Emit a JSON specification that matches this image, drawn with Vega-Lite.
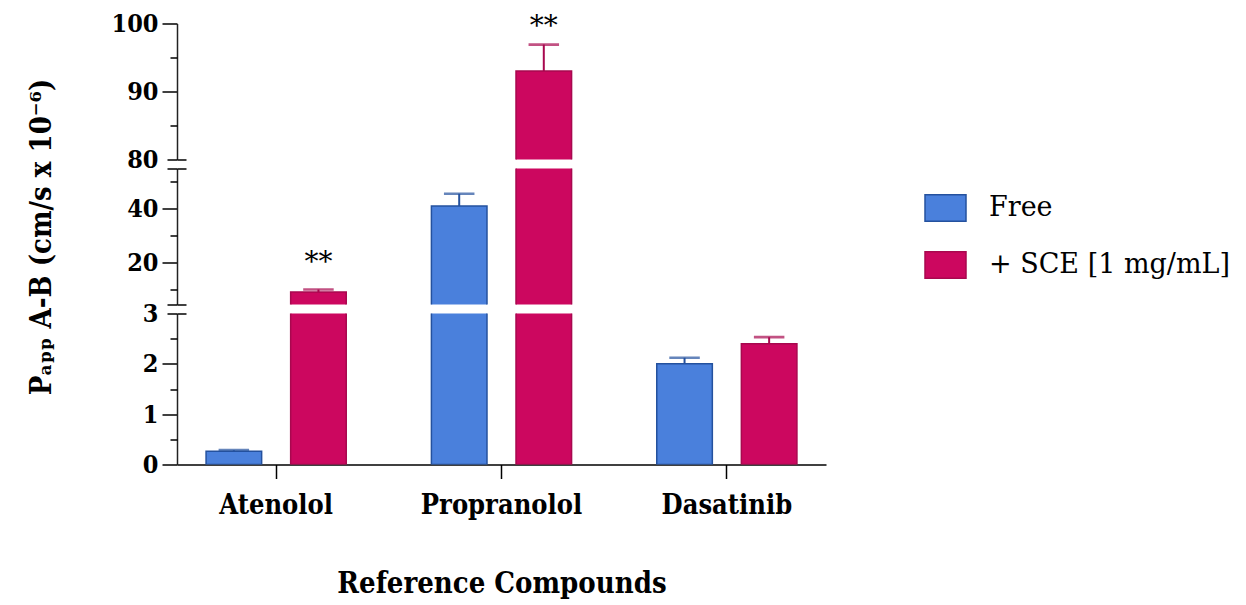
{
  "$schema": "https://vega.github.io/schema/vega-lite/v6.json",
  "padding": {"left": 27, "top": 11.5, "right": 5, "bottom": 5},
  "bounds": "flush",
  "config": {
    "font": "DejaVu Serif Condensed",
    "view": {"stroke": null},
    "axis": {
      "grid": false,
      "labelFont": "DejaVu Serif Condensed",
      "labelFontSize": 25,
      "labelFontWeight": "bold",
      "labelColor": "black",
      "tickColor": "black",
      "tickWidth": 1.5,
      "domainColor": "#222",
      "domainWidth": 1.5,
      "labelPadding": 4,
      "titleFont": "DejaVu Serif Condensed",
      "titleFontSize": 29,
      "titleFontWeight": "bold",
      "titleColor": "black"
    },
    "legend": {
      "labelFont": "DejaVu Serif",
      "labelFontSize": 27,
      "labelColor": "black",
      "labelLimit": 400,
      "symbolType": "M-1,-0.65H1V0.65H-1Z",
      "symbolSize": 1681,
      "symbolStrokeWidth": 1.5,
      "rowPadding": 19,
      "labelOffset": 22
    }
  },
  "datasets": {
    "papp": [
      {"compound": "Atenolol", "group": "Free", "value": 0.264, "upper": 0.285, "sig": ""},
      {"compound": "Atenolol", "group": "+ SCE [1 mg/mL]", "value": 9.0, "upper": 9.9, "sig": "**"},
      {"compound": "Propranolol", "group": "Free", "value": 41.0, "upper": 45.6, "sig": ""},
      {"compound": "Propranolol", "group": "+ SCE [1 mg/mL]", "value": 93.0, "upper": 96.9, "sig": "**"},
      {"compound": "Dasatinib", "group": "Free", "value": 2.0, "upper": 2.12, "sig": ""},
      {"compound": "Dasatinib", "group": "+ SCE [1 mg/mL]", "value": 2.4, "upper": 2.53, "sig": ""}
    ]
  },
  "spacing": 9,
  "resolve": {"scale": {"fill": "shared", "stroke": "shared"}, "legend": {"fill": "shared", "stroke": "shared"}},
  "vconcat": [
    {
      "width": 649,
      "height": 136,
      "data": {"name": "papp"},
      "resolve": {"axis": {"y": "independent"}},
      "encoding": {
        "x": {"field": "compound", "type": "nominal", "sort": ["Atenolol", "Propranolol", "Dasatinib"], "scale": {"paddingInner": 0.378, "paddingOuter": 0.129}, "axis": null},
        "xOffset": {"field": "group", "type": "nominal", "sort": ["Free", "+ SCE [1 mg/mL]"], "scale": {"paddingInner": 0.343, "paddingOuter": 0}},
        "stroke": {"field": "group", "type": "nominal", "scale": {"domain": ["Free", "+ SCE [1 mg/mL]"], "range": ["#24519e", "#a8084f"]}, "legend": {"title": null, "orient": "none", "legendX": 747, "legendY": 163}}
      },
      "layer": [
        {
          "mark": {"type": "bar", "clip": true, "strokeWidth": 1.5},
          "encoding": {
            "y": {"field": "value", "type": "quantitative", "scale": {"domain": [80, 100], "nice": false, "zero": false},
              "axis": {"title": null, "orient": "left", "values": [90, 100], "tickSize": 15}},
            "y2": {"datum": 0},
            "fill": {"field": "group", "type": "nominal", "scale": {"domain": ["Free", "+ SCE [1 mg/mL]"], "range": ["#4a80dc", "#cc075f"]}, "legend": {"title": null, "orient": "none", "legendX": 747, "legendY": 163}}
          }
        },
        {
          "mark": {"type": "rule", "clip": true, "strokeWidth": 2},
          "encoding": {
            "y": {"field": "value", "type": "quantitative", "scale": {"domain": [80, 100], "nice": false, "zero": false},
              "axis": {"title": null, "orient": "left", "values": [85, 95], "tickSize": 7, "labels": false, "domain": false}},
            "y2": {"field": "upper"}
          }
        },
        {
          "mark": {"type": "tick", "clip": true, "size": 28, "thickness": 0.1, "filled": false, "strokeWidth": 2.5},
          "encoding": {
            "y": {"field": "upper", "type": "quantitative", "scale": {"domain": [80, 100], "nice": false, "zero": false},
              "axis": {"title": null, "orient": "left", "values": [80], "tickSize": 10, "labelPadding": 9, "domain": false, "grid": true, "gridColor": "black", "gridWidth": 1.5, "gridDash": [9, 3000]}}
          }
        },
        {
          "transform": [{"filter": "datum.sig === '**' && datum.upper >= 80 && datum.upper <= 100"}],
          "mark": {"type": "text", "fontSize": 28, "font": "DejaVu Serif", "baseline": "alphabetic", "dy": -10, "fill": "black"},
          "encoding": {
            "y": {"field": "upper", "type": "quantitative", "scale": {"domain": [80, 100], "nice": false, "zero": false}, "axis": null},
            "text": {"field": "sig"},
            "stroke": {"value": null}
          }
        }
      ]
    },
    {
      "width": 649,
      "height": 136,
      "data": {"name": "papp"},
      "resolve": {"axis": {"y": "independent"}},
      "encoding": {
        "x": {"field": "compound", "type": "nominal", "sort": ["Atenolol", "Propranolol", "Dasatinib"], "scale": {"paddingInner": 0.378, "paddingOuter": 0.129}, "axis": null},
        "xOffset": {"field": "group", "type": "nominal", "sort": ["Free", "+ SCE [1 mg/mL]"], "scale": {"paddingInner": 0.343, "paddingOuter": 0}},
        "stroke": {"field": "group", "type": "nominal", "scale": {"domain": ["Free", "+ SCE [1 mg/mL]"], "range": ["#24519e", "#a8084f"]}, "legend": {"title": null, "orient": "none", "legendX": 747, "legendY": 163}}
      },
      "layer": [
        {
          "mark": {"type": "bar", "clip": true, "strokeWidth": 1.5},
          "encoding": {
            "y": {"field": "value", "type": "quantitative", "scale": {"domain": [4.3, 55], "nice": false, "zero": false},
              "axis": {"title": "Pₐₚₚ A-B (cm/s x 10⁻⁶)", "titlePadding": 70, "orient": "left", "values": [20, 40], "tickSize": 15}},
            "y2": {"datum": 0},
            "fill": {"field": "group", "type": "nominal", "scale": {"domain": ["Free", "+ SCE [1 mg/mL]"], "range": ["#4a80dc", "#cc075f"]}, "legend": {"title": null, "orient": "none", "legendX": 747, "legendY": 163}}
          }
        },
        {
          "mark": {"type": "rule", "clip": true, "strokeWidth": 2},
          "encoding": {
            "y": {"field": "value", "type": "quantitative", "scale": {"domain": [4.3, 55], "nice": false, "zero": false},
              "axis": {"title": null, "orient": "left", "values": [10, 30, 50], "tickSize": 7, "labels": false, "domain": false}},
            "y2": {"field": "upper"}
          }
        },
        {
          "mark": {"type": "tick", "clip": true, "size": 28, "thickness": 0.1, "filled": false, "strokeWidth": 2.5},
          "encoding": {
            "y": {"field": "upper", "type": "quantitative", "scale": {"domain": [4.3, 55], "nice": false, "zero": false},
              "axis": {"title": null, "orient": "left", "values": [4.3, 55], "tickSize": 10, "labels": false, "domain": false, "grid": true, "gridColor": "black", "gridWidth": 1.5, "gridDash": [9, 3000]}}
          }
        },
        {
          "transform": [{"filter": "datum.sig === '**' && datum.upper >= 4.3 && datum.upper <= 55"}],
          "mark": {"type": "text", "fontSize": 28, "font": "DejaVu Serif", "baseline": "alphabetic", "dy": -18, "fill": "black"},
          "encoding": {
            "y": {"field": "upper", "type": "quantitative", "scale": {"domain": [4.3, 55], "nice": false, "zero": false}, "axis": null},
            "text": {"field": "sig"},
            "stroke": {"value": null}
          }
        }
      ]
    },
    {
      "width": 649,
      "height": 151,
      "data": {"name": "papp"},
      "resolve": {"axis": {"y": "independent"}},
      "encoding": {
        "x": {"field": "compound", "type": "nominal", "sort": ["Atenolol", "Propranolol", "Dasatinib"], "scale": {"paddingInner": 0.378, "paddingOuter": 0.129},
          "axis": {"title": "Reference Compounds", "labelAngle": 0, "tickSize": 14, "labelPadding": 14, "titlePadding": 51, "domainColor": "black", "labelFontSize": 27, "titleFontSize": 29}},
        "xOffset": {"field": "group", "type": "nominal", "sort": ["Free", "+ SCE [1 mg/mL]"], "scale": {"paddingInner": 0.343, "paddingOuter": 0}},
        "stroke": {"field": "group", "type": "nominal", "scale": {"domain": ["Free", "+ SCE [1 mg/mL]"], "range": ["#24519e", "#a8084f"]}, "legend": {"title": null, "orient": "none", "legendX": 747, "legendY": 163}}
      },
      "layer": [
        {
          "mark": {"type": "bar", "clip": true, "strokeWidth": 1.5},
          "encoding": {
            "y": {"field": "value", "type": "quantitative", "scale": {"domain": [0, 3], "nice": false, "zero": false},
              "axis": {"title": null, "orient": "left", "values": [0, 1, 2], "tickSize": 15}},
            "y2": {"datum": 0},
            "fill": {"field": "group", "type": "nominal", "scale": {"domain": ["Free", "+ SCE [1 mg/mL]"], "range": ["#4a80dc", "#cc075f"]}, "legend": {"title": null, "orient": "none", "legendX": 747, "legendY": 163}}
          }
        },
        {
          "mark": {"type": "rule", "clip": true, "strokeWidth": 2},
          "encoding": {
            "y": {"field": "value", "type": "quantitative", "scale": {"domain": [0, 3], "nice": false, "zero": false},
              "axis": {"title": null, "orient": "left", "values": [0.5, 1.5, 2.5], "tickSize": 7, "labels": false, "domain": false}},
            "y2": {"field": "upper"}
          }
        },
        {
          "mark": {"type": "tick", "clip": true, "size": 28, "thickness": 0.1, "filled": false, "strokeWidth": 2.5},
          "encoding": {
            "y": {"field": "upper", "type": "quantitative", "scale": {"domain": [0, 3], "nice": false, "zero": false},
              "axis": {"title": null, "orient": "left", "values": [3], "tickSize": 10, "labelPadding": 9, "domain": false, "grid": true, "gridColor": "black", "gridWidth": 1.5, "gridDash": [9, 3000]}}
          }
        }
      ]
    }
  ]
}
